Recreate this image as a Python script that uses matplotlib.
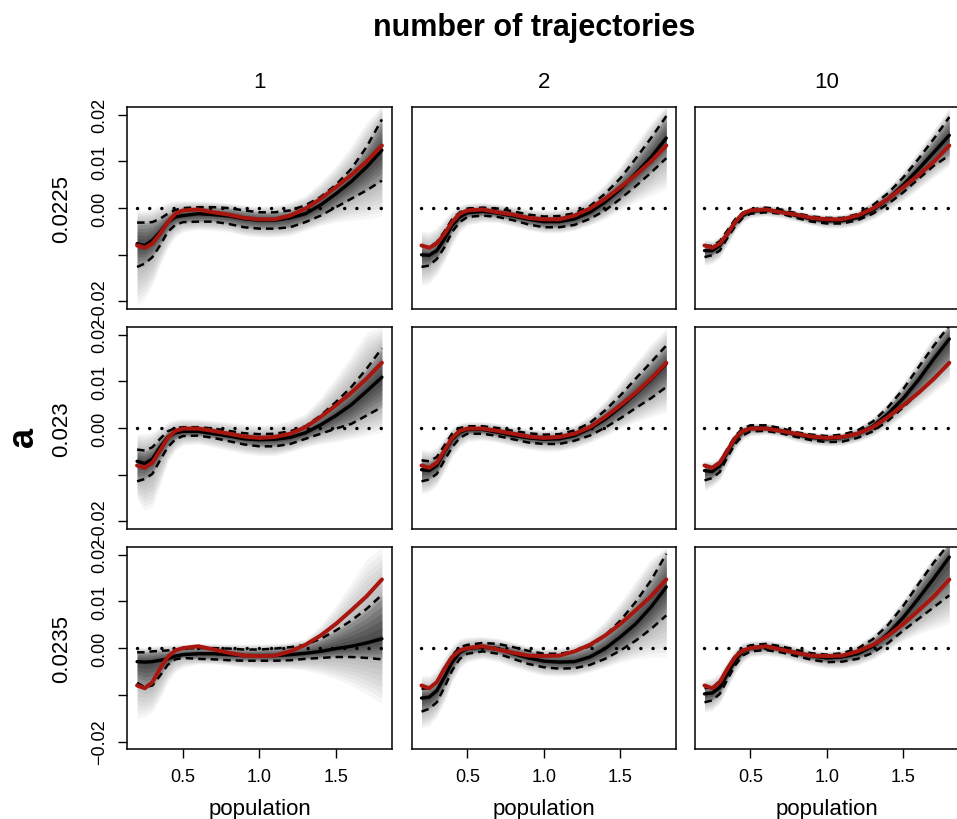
import numpy as np
import matplotlib
matplotlib.use('Agg')
from matplotlib import pyplot as plt

plt.rcParams['font.family'] = ['Liberation Sans', 'DejaVu Sans']

# populacija (x osa) - tacke u kojima su ocitane krive
x = [0.2, 0.25, 0.3, 0.35, 0.4, 0.45, 0.5, 0.6, 0.7, 0.8, 0.9, 1.0,
     1.1, 1.2, 1.3, 1.4, 1.5, 1.6, 1.7, 1.8]

red_a = ['0.0225', '0.023', '0.0235']
kolone_n = ['1', '2', '10']

# sve vrednosti su u hiljaditim delovima (x 1e-3)
# prava kriva (crvena), po redu (parametar a)
truth_1 = [-8.0, -8.5, -7.6, -5.5, -3.0, -1.2, -0.5, -0.3, -0.9, -1.4, -2.1, -2.4, -2.4, -1.6, -0.1, 2.0, 4.5, 7.1, 10.0, 13.4]
truth_2 = [-8.0, -8.5, -7.4, -4.8, -2.1, -0.6, -0.1, -0.1, -0.6, -1.2, -1.8, -2.1, -1.9, -1.2, 0.2, 2.4, 4.9, 7.6, 10.6, 14.0]
truth_3 = [-8.0, -8.6, -7.3, -4.4, -1.9, -0.5, 0.0, 0.4, -0.3, -1.0, -1.6, -1.7, -1.6, -0.7, 0.7, 2.7, 5.2, 8.1, 11.1, 14.7]

# red 1 (a = 0.0225)
mean_11 = [-7.6, -8.0, -6.9, -5.1, -3.0, -1.9, -1.6, -1.2, -1.4, -1.7, -2.3, -2.6, -2.6, -2.1, -1.2, 0.7, 3.1, 5.7, 8.8, 12.4]
qlo_11 = [-12.6, -11.9, -10.5, -8.0, -5.1, -3.6, -3.0, -2.9, -2.9, -3.4, -4.1, -4.4, -4.4, -4.1, -3.0, -1.6, 0.2, 2.0, 3.8, 5.9]
qhi_11 = [-3.1, -3.1, -3.0, -2.3, -1.2, -0.4, 0.0, 0.2, 0.2, 0.0, -0.5, -0.9, -0.9, -0.5, 0.6, 2.4, 5.0, 8.4, 13.1, 19.0]
elo_11 = [-20.9, -19.4, -16.6, -12.3, -8.7, -6.2, -5.1, -4.6, -4.8, -5.1, -5.9, -6.2, -6.2, -5.9, -4.8, -3.7, -3.0, -2.6, -2.3, -1.6]
ehi_11 = [-0.5, -0.5, -0.1, 0.6, 1.3, 1.6, 1.6, 1.6, 1.4, 1.1, 0.7, 0.4, 0.6, 1.3, 2.7, 5.6, 9.1, 13.4, 18.4, 22.0]

mean_12 = [-10.0, -10.1, -9.1, -6.6, -3.7, -1.9, -1.0, -0.7, -1.1, -1.7, -2.4, -2.9, -2.9, -2.3, -0.9, 1.3, 4.1, 7.4, 10.9, 15.0]
qlo_12 = [-12.6, -12.3, -10.9, -8.4, -5.1, -3.0, -1.9, -1.6, -1.9, -2.6, -3.5, -4.1, -4.1, -3.6, -2.3, -0.5, 2.0, 4.7, 7.6, 10.7]
qhi_12 = [-8.0, -8.4, -7.3, -5.0, -2.4, -0.9, -0.1, 0.1, -0.1, -0.7, -1.4, -1.8, -1.7, -1.1, 0.4, 3.1, 6.4, 10.6, 15.0, 19.7]
elo_12 = [-16.6, -16.2, -14.4, -11.6, -8.0, -5.1, -3.7, -3.0, -3.1, -3.9, -4.8, -5.3, -5.3, -4.8, -3.7, -2.3, -0.5, 1.3, 2.7, 4.1]
ehi_12 = [-4.8, -5.1, -4.1, -2.3, -0.5, 0.6, 1.1, 1.3, 0.9, 0.4, -0.1, -0.5, -0.3, 0.6, 2.4, 5.2, 9.1, 13.8, 18.4, 22.0]

mean_13 = [-9.1, -9.1, -8.0, -5.5, -3.1, -1.6, -0.7, -0.4, -0.7, -1.6, -2.3, -2.7, -2.7, -2.0, -0.4, 2.0, 5.0, 8.4, 12.0, 15.6]
qlo_13 = [-10.5, -10.1, -9.1, -6.4, -3.9, -2.1, -1.2, -0.9, -1.2, -2.1, -2.9, -3.3, -3.3, -2.6, -1.2, 0.9, 3.4, 6.3, 9.1, 11.3]
qhi_13 = [-8.0, -8.1, -7.1, -4.8, -2.4, -1.0, -0.3, 0.1, -0.3, -1.1, -1.8, -2.1, -2.1, -1.3, 0.6, 3.2, 6.6, 10.6, 14.9, 19.5]
elo_13 = [-12.3, -11.9, -10.7, -8.0, -5.1, -3.1, -2.1, -1.7, -2.1, -2.9, -3.7, -4.3, -4.3, -3.7, -2.4, -0.6, 1.6, 4.1, 6.6, 9.1]
ehi_13 = [-6.6, -6.9, -5.9, -3.7, -1.6, -0.3, 0.4, 0.7, 0.4, -0.4, -1.1, -1.4, -1.3, -0.4, 1.6, 4.5, 8.1, 12.4, 17.0, 21.6]

# red 2 (a = 0.023)
mean_21 = [-7.1, -7.6, -6.6, -4.1, -1.9, -1.0, -0.7, -0.7, -1.2, -1.7, -2.3, -2.5, -2.4, -2.0, -1.0, 0.7, 2.7, 5.0, 7.9, 10.9]
qlo_21 = [-11.4, -10.9, -9.8, -6.9, -4.1, -2.4, -1.7, -1.6, -2.1, -2.8, -3.5, -3.9, -3.9, -3.4, -2.3, -1.2, -0.1, 0.9, 2.7, 4.5]
qhi_21 = [-4.6, -4.8, -4.1, -2.3, -0.7, 0.0, 0.2, 0.2, -0.1, -0.6, -1.1, -1.3, -1.2, -0.7, 0.4, 2.7, 5.6, 8.8, 12.7, 17.1]
elo_21 = [-15.1, -17.6, -16.9, -12.3, -7.3, -4.8, -3.7, -3.4, -4.1, -4.8, -5.5, -5.9, -5.9, -5.1, -4.1, -3.4, -3.0, -2.3, -1.6, -0.9]
ehi_21 = [-1.2, -1.2, -0.9, 0.2, 1.3, 1.8, 2.0, 1.9, 1.6, 1.3, 0.9, 0.7, 0.9, 1.6, 3.1, 6.6, 10.9, 15.6, 20.6, 21.6]

mean_22 = [-8.9, -9.1, -8.0, -5.1, -2.4, -0.9, -0.3, -0.3, -0.9, -1.6, -2.1, -2.4, -2.3, -1.6, -0.1, 1.9, 4.5, 7.4, 10.4, 13.8]
qlo_22 = [-11.4, -11.0, -9.8, -6.9, -4.1, -2.1, -1.2, -1.2, -1.7, -2.4, -3.1, -3.4, -3.4, -2.7, -1.6, 0.1, 2.1, 4.3, 6.4, 8.8]
qhi_22 = [-6.9, -7.1, -6.2, -3.7, -1.2, 0.0, 0.4, 0.4, 0.0, -0.6, -1.1, -1.4, -1.3, -0.5, 1.1, 3.8, 7.0, 10.6, 14.1, 17.7]
elo_22 = [-14.1, -13.7, -12.3, -9.4, -6.2, -4.1, -2.9, -2.6, -3.1, -3.9, -4.6, -5.0, -4.9, -4.3, -3.1, -1.7, -0.1, 1.3, 2.4, 3.4]
ehi_22 = [-4.4, -4.8, -4.1, -1.9, 0.2, 1.1, 1.4, 1.4, 1.1, 0.4, -0.1, -0.4, -0.1, 0.7, 2.7, 5.9, 9.9, 14.1, 18.1, 21.3]

mean_23 = [-9.1, -9.3, -8.1, -5.1, -2.4, -0.7, 0.0, 0.0, -0.6, -1.4, -2.0, -2.3, -2.0, -1.2, 0.4, 3.1, 6.4, 10.4, 14.9, 19.1]
qlo_23 = [-11.2, -10.7, -9.4, -6.2, -3.4, -1.6, -0.7, -0.6, -1.1, -1.9, -2.6, -3.0, -2.9, -2.1, -0.7, 1.6, 4.5, 7.6, 10.7, 13.8]
qhi_23 = [-8.1, -8.4, -7.3, -4.4, -1.7, -0.1, 0.6, 0.6, 0.0, -0.9, -1.4, -1.7, -1.4, -0.5, 1.4, 4.5, 8.4, 13.1, 17.7, 22.0]
elo_23 = [-13.4, -12.6, -11.2, -8.0, -4.8, -2.6, -1.7, -1.4, -1.9, -2.9, -3.6, -3.9, -3.8, -3.0, -1.7, 0.2, 2.5, 5.0, 7.6, 10.2]
ehi_23 = [-6.9, -7.1, -6.0, -3.4, -0.9, 0.6, 1.1, 1.1, 0.6, -0.3, -0.9, -1.1, -0.9, 0.2, 2.4, 5.6, 9.9, 14.9, 19.9, 22.0]

# red 3 (a = 0.0235)
mean_31 = [-2.9, -3.0, -2.9, -2.6, -2.3, -1.7, -1.4, -1.2, -1.2, -1.4, -1.6, -1.6, -1.6, -1.4, -1.1, -0.7, -0.1, 0.4, 1.1, 2.0]
qlo_31 = [-7.4, -8.4, -8.0, -5.9, -3.6, -2.4, -2.1, -2.3, -2.4, -2.6, -2.7, -2.7, -2.7, -2.6, -2.3, -2.1, -1.9, -1.9, -2.1, -2.4]
qhi_31 = [-0.9, -0.9, -0.7, -0.6, -0.5, -0.4, -0.1, 0.0, 0.0, -0.1, -0.3, -0.3, -0.1, 0.2, 0.7, 2.0, 3.8, 5.9, 8.4, 11.4]
elo_31 = [-15.1, -14.8, -13.7, -10.9, -7.3, -5.1, -4.1, -3.4, -3.4, -3.7, -4.1, -4.3, -4.3, -4.4, -4.8, -5.5, -6.6, -8.0, -9.8, -11.9]
ehi_31 = [0.2, 0.2, 0.4, 0.6, 0.7, 0.9, 0.9, 1.0, 1.0, 0.9, 0.9, 0.9, 1.0, 1.3, 2.0, 4.9, 9.1, 14.1, 19.1, 21.6]

mean_32 = [-10.7, -10.5, -9.1, -6.2, -3.0, -0.9, -0.1, 0.2, -0.1, -1.2, -2.1, -2.8, -3.0, -2.9, -1.9, -0.1, 2.4, 5.2, 8.8, 13.1]
qlo_32 = [-13.6, -13.0, -11.6, -8.4, -4.8, -2.3, -1.2, -0.7, -1.2, -2.3, -3.4, -4.1, -4.4, -4.3, -3.6, -2.3, -0.5, 1.6, 4.1, 7.0]
qhi_32 = [-8.7, -8.6, -7.3, -4.4, -1.6, 0.2, 0.7, 1.1, 0.9, 0.2, -0.6, -1.2, -1.2, -0.7, 0.4, 2.7, 5.9, 9.9, 14.5, 20.2]
elo_32 = [-17.3, -16.6, -14.8, -11.6, -7.3, -4.4, -3.0, -2.3, -2.9, -4.1, -5.1, -5.9, -6.0, -5.9, -5.1, -4.1, -3.0, -2.3, -1.9, -1.9]
ehi_32 = [-5.9, -5.9, -4.6, -1.9, 0.6, 2.0, 2.4, 2.5, 2.1, 1.3, 0.4, 0.0, 0.1, 0.9, 2.7, 5.9, 9.9, 14.5, 19.1, 21.6]

mean_33 = [-9.8, -9.6, -8.4, -5.5, -2.6, -0.7, 0.0, 0.4, -0.1, -1.0, -1.7, -2.1, -1.9, -1.2, 0.4, 3.1, 6.6, 10.7, 15.0, 19.5]
qlo_33 = [-11.6, -11.2, -9.8, -6.7, -3.7, -1.6, -0.7, -0.4, -0.9, -1.7, -2.5, -3.0, -2.9, -2.3, -1.0, 1.1, 3.8, 6.3, 8.8, 11.3]
qhi_33 = [-8.6, -8.4, -7.1, -4.4, -1.7, 0.0, 0.6, 0.9, 0.4, -0.4, -1.1, -1.4, -1.1, -0.1, 1.9, 5.0, 9.1, 13.8, 18.4, 22.4]
elo_33 = [-13.7, -13.4, -11.9, -8.7, -5.5, -3.1, -1.9, -1.6, -2.0, -2.9, -3.7, -4.3, -4.3, -3.7, -2.4, -0.5, 1.6, 3.1, 4.1, 5.2]
ehi_33 = [-6.6, -6.4, -5.3, -2.6, -0.1, 1.3, 1.6, 1.8, 1.3, 0.4, -0.3, -0.6, -0.3, 0.9, 3.1, 6.3, 10.6, 15.2, 19.9, 22.4]

truth = [truth_1, truth_2, truth_3]
paneli = {
    (0, 0): (mean_11, qlo_11, qhi_11, elo_11, ehi_11),
    (0, 1): (mean_12, qlo_12, qhi_12, elo_12, ehi_12),
    (0, 2): (mean_13, qlo_13, qhi_13, elo_13, ehi_13),
    (1, 0): (mean_21, qlo_21, qhi_21, elo_21, ehi_21),
    (1, 1): (mean_22, qlo_22, qhi_22, elo_22, ehi_22),
    (1, 2): (mean_23, qlo_23, qhi_23, elo_23, ehi_23),
    (2, 0): (mean_31, qlo_31, qhi_31, elo_31, ehi_31),
    (2, 1): (mean_32, qlo_32, qhi_32, elo_32, ehi_32),
    (2, 2): (mean_33, qlo_33, qhi_33, elo_33, ehi_33),
}

crvena = '#a8170f'

fig = plt.figure(figsize=(9.57, 8.2), dpi=100)
levo = [0.1330, 0.4302, 0.7259]
dole = [0.6220, 0.3537, 0.0854]
sirina = 0.2763
visina = 0.2460

xs = np.array(x)
for r in range(3):
    for c in range(3):
        ax = fig.add_axes([levo[c], dole[r], sirina, visina])
        m, qlo, qhi, elo, ehi = [np.array(v) / 1000 for v in paneli[(r, c)]]
        tr = np.array(truth[r]) / 1000

        # siva senka uzoraka: spoljni (svetli) pa unutrasnji (tamni) slojevi
        for t in np.linspace(1.0, 0.1, 8):
            ax.fill_between(xs, qlo + t * (elo - qlo), qhi + t * (ehi - qhi),
                            color='k', alpha=0.035, lw=0)
        ax.fill_between(xs, qlo, qhi, color='k', alpha=0.15, lw=0)
        for t in np.linspace(0.9, 0.1, 6):
            ax.fill_between(xs, m + t * (qlo - m), m + t * (qhi - m),
                            color='k', alpha=0.12, lw=0)

        ax.plot([xs[0], xs[-1]], [0, 0], color='k', lw=2.5,
                linestyle=(0, (0.01, 3.5)), dash_capstyle='round')
        ax.plot(xs, qlo, color='k', lw=1.8, linestyle=(0, (3, 2)))
        ax.plot(xs, qhi, color='k', lw=1.8, linestyle=(0, (3, 2)))
        ax.plot(xs, m, color='k', lw=2.4, solid_capstyle='round')
        ax.plot(xs, tr, color=crvena, lw=2.9, solid_capstyle='round')

        ax.set_xlim(0.136, 1.864)
        ax.set_ylim(-0.0216, 0.0216)
        for s in ax.spines.values():
            s.set_linewidth(1.1)
        ax.tick_params(direction='out', length=6.5, width=1.0, labelsize=13, pad=7)

        if c == 0:
            ax.set_yticks([-0.02, -0.01, 0.0, 0.01, 0.02])
            ax.set_yticklabels(['\u22120.02', '', '0.00', '0.01', '0.02'],
                               rotation=90, va='center')
        else:
            ax.set_yticks([])
        if r == 2:
            ax.set_xticks([0.5, 1.0, 1.5])
            ax.set_xticklabels(['0.5', '1.0', '1.5'])
            fig.text(levo[c] + sirina / 2, 1 - 815 / 820, 'population',
                     ha='center', va='baseline', fontsize=16)
        else:
            ax.set_xticks([])

        if r == 0:
            fig.text(levo[c] + sirina / 2, 1 - 83 / 820, kolone_n[c],
                     ha='center', va='center', fontsize=16)
    fig.text(62 / 957, dole[r] + visina / 2, red_a[r], rotation=90,
             ha='center', va='center', fontsize=16)

fig.text(534 / 957, 1 - 28 / 820, 'number of trajectories',
         ha='center', va='center', fontsize=22, fontweight='bold')
fig.text(23 / 957, 1 - 437 / 820, 'a', rotation=90,
         ha='center', va='center', fontsize=26, fontweight='bold')

fig.savefig('out.png', dpi=100)
